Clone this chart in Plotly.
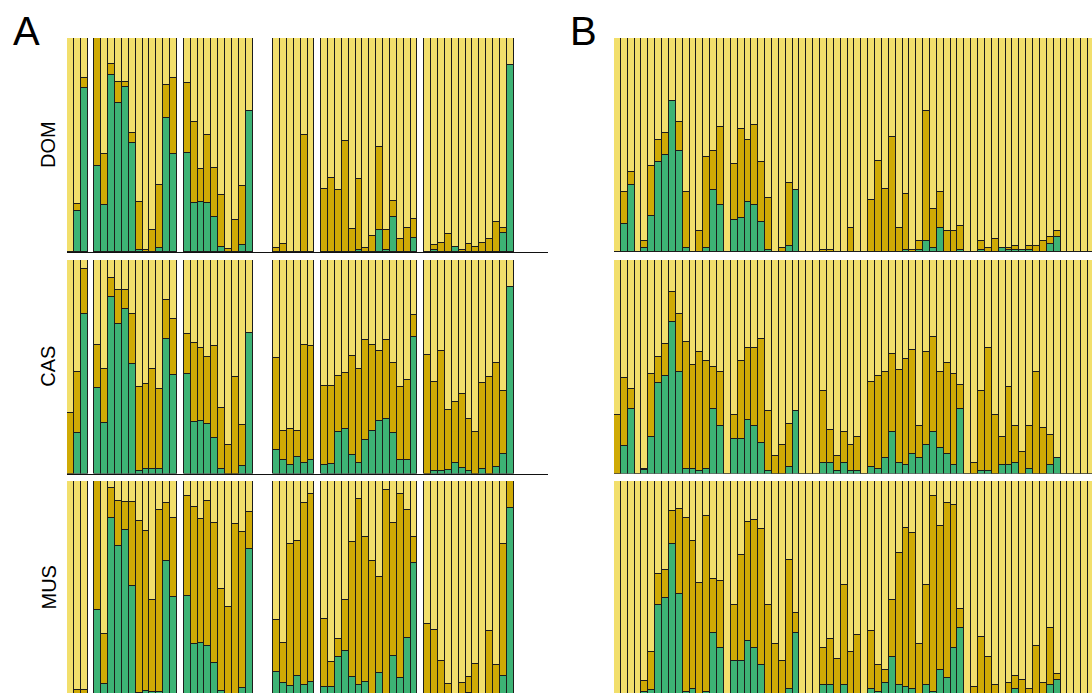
import plotly.graph_objects as go

# ---------------- DATA ----------------
# Panel A: 70 slots; None = empty slot (no sample)
A_groups_sizes = [3, 12, 10, 6, 14, 13]
A_gap_after = [1, 1, 3, 1, 1, 5]

rows = ["DOM", "CAS", "MUS"]

# Panel A, per group: lists of (green share, dark-gold share)
dom_a_green = [
    [0, 0.19, 0.766],
    [0.40, 0.221, 0.826, 0.698, 0.771, 0.509, 0.009, 0, 0, 0.019, 0.626, 0.46],
    [0.464, 0.229, 0.234, 0.231, 0.164, 0.023, 0, 0, 0.034, 0.659],
    [0, 0, 0, 0, 0, 0],
    [0, 0, 0, 0, 0, 0.011, 0, 0, 0.104, 0.009, 0.164, 0, 0, 0.065],
    [0, 0.009, 0, 0, 0.023, 0, 0, 0, 0, 0, 0, 0.09, 0.875],
]
dom_a_gold = [
    [0, 0.036, 0.047],
    [0.60, 0.239, 0.052, 0.095, 0.022, 0.046, 0.226, 0.01, 0.103, 0.294, 0.153, 0.353],
    [0.326, 0.378, 0.154, 0.314, 0.227, 0.245, 0.016, 0.15, 0.274, 0],
    [0.019, 0.036, 0, 0, 0.548, 0],
    [0.294, 0.347, 0.288, 0.52, 0.107, 0.329, 0.019, 0.073, 0.385, 0.092, 0.076, 0.061, 0.114, 0.089],
    [0, 0.022, 0.042, 0.084, 0, 0.011, 0.037, 0.023, 0.042, 0.062, 0.142, 0.022, 0],
]
cas_a_green = [
    [0, 0.192, 0.746],
    [0.40, 0.237, 0.827, 0.699, 0.771, 0.512, 0.012, 0.022, 0.022, 0.022, 0.628, 0.461],
    [0.466, 0.243, 0.245, 0.234, 0.165, 0.023, 0, 0, 0.036, 0.659],
    [0.111, 0.062, 0.042, 0.078, 0.05, 0.064],
    [0.039, 0.044, 0.193, 0.209, 0.087, 0.05, 0.157, 0.201, 0.246, 0.255, 0.188, 0.064, 0.064, 0.639],
    [0, 0.012, 0.014, 0.017, 0.05, 0.025, 0.014, 0, 0.022, 0, 0.03, 0.092, 0.875],
]
cas_a_gold = [
    [0.285, 0.282, 0.21],
    [0.201, 0.252, 0.087, 0.159, 0.087, 0.234, 0.393, 0.397, 0.469, 0.374, 0.187, 0.263],
    [0.187, 0.366, 0.345, 0.314, 0.433, 0.282, 0.132, 0.453, 0.191, 0],
    [0.428, 0.136, 0.167, 0.121, 0.551, 0.531],
    [0.372, 0.367, 0.265, 0.261, 0.463, 0.439, 0.469, 0.40, 0.33, 0.37, 0.329, 0.339, 0.375, 0.102],
    [0.556, 0.415, 0.558, 0.281, 0.285, 0.349, 0.24, 0.195, 0.403, 0.452, 0.486, 0.296, 0],
]
mus_a_green = [
    [0, 0, 0],
    [0.396, 0.047, 0.826, 0.696, 0.77, 0.507, 0.008, 0.016, 0.014, 0.014, 0.624, 0.459],
    [0.462, 0.238, 0.241, 0.228, 0.149, 0.017, 0, 0, 0.031, 0.681],
    [0.105, 0.056, 0.038, 0.088, 0.045, 0.058],
    [0.033, 0.036, 0.175, 0.205, 0.083, 0.044, 0.058, 0, 0.102, 0, 0.182, 0.078, 0.266, 0.618],
    [0, 0, 0, 0, 0, 0, 0.008, 0, 0, 0, 0, 0.086, 0.873],
]
mus_a_gold = [
    [0, 0.019, 0.019],
    [0.604, 0.238, 0.14, 0.209, 0.13, 0.393, 0.806, 0.752, 0.43, 0.851, 0.271, 0.37],
    [0.469, 0.641, 0.581, 0.68, 0.654, 0.479, 0.412, 0.798, 0.73, 0.172],
    [0.242, 0.187, 0.668, 0.633, 0.853, 0.879],
    [0.322, 0.117, 0.086, 0.239, 0.629, 0.87, 0.681, 0.623, 0.449, 0.959, 0.619, 0.859, 0.598, 0.122],
    [0.33, 0.304, 0.156, 0.05, 0, 0.055, 0.075, 0.141, 0, 0.297, 0.139, 0.617, 0.127],
]

# Panel B: 70 samples
dom_b_green = [0, 0.131, 0.313, 0, 0.019, 0.17, 0.422, 0.453, 0.707, 0.474,
               0.019, 0, 0, 0.019, 0.291, 0.221, 0, 0.15, 0.16, 0.232,
               0.221, 0.14, 0.009, 0, 0, 0.028, 0.291, 0, 0, 0,
               0, 0, 0, 0, 0, 0, 0, 0, 0, 0,
               0, 0, 0.009, 0, 0.009, 0.051, 0.019, 0.11, 0, 0,
               0.009, 0, 0, 0.009, 0, 0, 0.019, 0.009, 0.009, 0.009,
               0.009, 0, 0, 0.039, 0.07, 0, 0, 0, 0, 0]
dom_b_gold = [0, 0.151, 0.059, 0, 0.031, 0.233, 0.103, 0.102, 0, 0.132,
              0.263, 0, 0.1, 0.425, 0.181, 0.363, 0, 0.263, 0.415, 0.293,
              0.374, 0.282, 0.242, 0, 0.019, 0.293, 0, 0, 0, 0,
              0.009, 0.009, 0, 0, 0.11, 0, 0, 0.241, 0.424, 0.293,
              0.536, 0.11, 0.264, 0.009, 0.042, 0.606, 0.181, 0.172, 0.1, 0.1,
              0.111, 0, 0, 0.041, 0.019, 0.059, 0, 0.01, 0.021, 0,
              0.021, 0.03, 0.05, 0.031, 0.03, 0, 0, 0, 0, 0]
cas_b_green = [0, 0.131, 0.302, 0, 0.016, 0.171, 0.424, 0.455, 0.709, 0.475,
               0.022, 0.022, 0.012, 0.022, 0.302, 0.223, 0, 0.162, 0.162, 0.252,
               0.223, 0.142, 0.012, 0, 0, 0.031, 0.293, 0, 0, 0,
               0.051, 0.051, 0.012, 0.051, 0.012, 0.012, 0, 0.031, 0.022, 0.072,
               0.193, 0.05, 0.04, 0.092, 0.072, 0.132, 0.193, 0.121, 0.092, 0.04,
               0.302, 0, 0, 0.012, 0.012, 0, 0.04, 0.04, 0.051, 0,
               0.02, 0, 0, 0.04, 0.072, 0, 0, 0, 0, 0]
cas_b_gold = [0.274, 0.314, 0.094, 0, 0.006, 0.295, 0.123, 0.151, 0.14, 0.274,
              0.596, 0.484, 0.555, 0.504, 0.195, 0.252, 0, 0.112, 0.364, 0.334,
              0.363, 0.486, 0.281, 0.081, 0.132, 0.203, 0, 0, 0, 0,
              0.334, 0.151, 0.071, 0.142, 0.122, 0.159, 0, 0.396, 0.434, 0.403,
              0.365, 0.436, 0.497, 0.486, 0.151, 0.435, 0.446, 0.354, 0.425, 0.426,
              0.114, 0, 0.05, 0.373, 0.575, 0.274, 0.133, 0.365, 0.172, 0.101,
              0.203, 0.475, 0.212, 0.142, 0, 0, 0, 0, 0, 0]
mus_b_green = [0, 0, 0, 0, 0.013, 0.023, 0.421, 0.451, 0.704, 0.473,
               0.013, 0.025, 0, 0.013, 0.29, 0.218, 0, 0.156, 0.156, 0.249,
               0.218, 0.136, 0, 0, 0, 0.025, 0.29, 0, 0, 0,
               0.045, 0.045, 0, 0.045, 0, 0, 0, 0.025, 0.014, 0.055,
               0.177, 0.045, 0.034, 0.025, 0, 0.045, 0.014, 0.116, 0.075, 0.218,
               0.31, 0, 0, 0, 0, 0, 0, 0, 0.025, 0,
               0, 0, 0, 0.045, 0.066, 0, 0, 0, 0, 0]
mus_b_gold = [0, 0, 0, 0, 0.051, 0.174, 0.142, 0.133, 0.154, 0.396,
              0.815, 0.692, 0.521, 0.824, 0.253, 0.314, 0, 0.265, 0.498, 0.557,
              0.599, 0.64, 0.421, 0.238, 0.156, 0.607, 0.09, 0, 0, 0,
              0.173, 0.213, 0.167, 0.468, 0.197, 0.279, 0, 0.274, 0.122, 0.061,
              0.264, 0.62, 0.744, 0.732, 0.238, 0.468, 0.916, 0.671, 0.823, 0.671,
              0.091, 0, 0.034, 0.269, 0.177, 0.045, 0, 0.055, 0.061, 0.066,
              0.025, 0.228, 0.055, 0.265, 0.029, 0, 0, 0, 0, 0]

# ---------------- STYLE ----------------
C_GREEN = "#3DB375"
C_GOLD = "#CFAA05"
C_LIGHT = "#F2DF6C"
EDGE = dict(color="#1c1c1c", width=1)

W, H = 1092, 693
A_dom = [67 / W, 548 / W]
B_dom = [614 / W, 1.0]
row_px = [(38, 252), (260, 473.5), (481, 693)]
y_ranges = [[0, 1], [0, 1], [0.007, 1]]


def flatten_slots(groups):
    out = []
    for g, gap in zip(groups, A_gap_after):
        out.extend(g)
        out.extend([None] * gap)
    return out


fig = go.Figure()

panel_data = [
    (flatten_slots(dom_a_green), flatten_slots(dom_a_gold), dom_b_green, dom_b_gold),
    (flatten_slots(cas_a_green), flatten_slots(cas_a_gold), cas_b_green, cas_b_gold),
    (flatten_slots(mus_a_green), flatten_slots(mus_a_gold), mus_b_green, mus_b_gold),
]

layout_axes = {}
ax_n = 0
for r, (ag, ad, bg, bd) in enumerate(panel_data):
    top, bot = row_px[r]
    ydom = [1 - bot / H, 1 - top / H]
    for p, (gv, dv) in enumerate([(ag, ad), (bg, bd)]):
        ax_n += 1
        xs = list(range(len(gv)))
        lv = [None if g is None else round(1 - g - d, 4) for g, d in zip(gv, dv)]
        xa = "x" if ax_n == 1 else f"x{ax_n}"
        ya = "y" if ax_n == 1 else f"y{ax_n}"
        for vals, col in [(gv, C_GREEN), (dv, C_GOLD), (lv, C_LIGHT)]:
            fig.add_trace(go.Bar(x=xs, y=vals, marker=dict(color=col, line=EDGE),
                                 xaxis=xa, yaxis=ya, showlegend=False,
                                 hoverinfo="skip"))
        xkey = "xaxis" if ax_n == 1 else f"xaxis{ax_n}"
        ykey = "yaxis" if ax_n == 1 else f"yaxis{ax_n}"
        if p == 0:
            xr = [-0.5, 69.5]
        else:
            xr = [-0.5, 69.08]
        layout_axes[xkey] = dict(domain=A_dom if p == 0 else B_dom, anchor=ya,
                                 range=xr, showgrid=False, zeroline=False,
                                 showticklabels=False, ticks="",
                                 showline=(p == 0), linecolor="#111", linewidth=1)
        layout_axes[ykey] = dict(domain=ydom, anchor=xa, range=y_ranges[r],
                                 showgrid=False, zeroline=False,
                                 showticklabels=False, ticks="", showline=False)

fig.update_layout(**layout_axes)

annots = [
    dict(text="A", x=26 / W, y=1 - 31 / H, font=dict(size=40)),
    dict(text="B", x=583 / W, y=1 - 31 / H, font=dict(size=40)),
]
for r, name in enumerate(rows):
    top, bot = row_px[r]
    if r == 2:
        bot = 694
    annots.append(dict(text=name, x=48 / W, y=1 - (top + bot) / 2 / H,
                       textangle=-90, font=dict(size=20)))
for a in annots:
    a.update(xref="paper", yref="paper", showarrow=False,
             xanchor="center", yanchor="middle")

fig.update_layout(
    width=W, height=H, margin=dict(l=0, r=0, t=0, b=0),
    barmode="stack", bargap=0,
    paper_bgcolor="white", plot_bgcolor="white",
    font=dict(family="Liberation Sans, Arial, sans-serif", color="black"),
    annotations=annots,
)

fig.write_html("out.html", config={"displayModeBar": False})
